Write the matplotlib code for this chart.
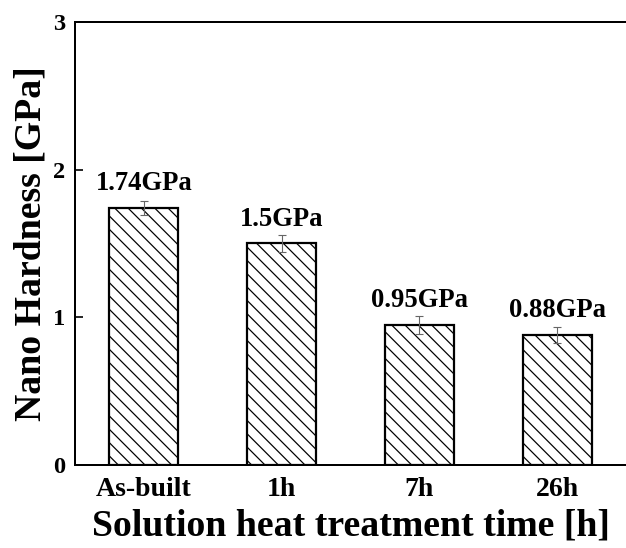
import matplotlib
matplotlib.use("Agg")
import matplotlib.pyplot as plt

# data
categories = ["As-built", "1h", "7h", "26h"]
hardness = [1.74, 1.5, 0.95, 0.88]
errors = [0.05, 0.055, 0.06, 0.055]
value_labels = ["1.74GPa", "1.5GPa", "0.95GPa", "0.88GPa"]
y_ticks = [0, 1, 2, 3]

plt.rcParams["font.family"] = ["Liberation Serif", "DejaVu Serif"]
plt.rcParams["font.weight"] = "bold"
plt.rcParams["hatch.linewidth"] = 1.1

# dpi 80 so the hatch tile spacing comes close to the original
dpi = 80
fig = plt.figure(figsize=(626 / dpi, 548 / dpi), dpi=dpi)
ax = fig.add_axes([0.1198, 0.1515, 0.8802, 0.8085])

x = list(range(len(categories)))
ax.bar(x, hardness, width=0.5, color="white", edgecolor="black",
       linewidth=2.0, hatch="\\\\", zorder=2)
ax.errorbar(x, hardness, yerr=errors, fmt="none", ecolor="#666666",
            elinewidth=1.0, capsize=3.5, capthick=1.0, zorder=3)

for xi, v, lab in zip(x, hardness, value_labels):
    ax.annotate(lab, (xi, v), xytext=(0, 16), textcoords="offset points",
                ha="center", va="baseline", fontsize=24, fontweight="bold")

ax.set_xlim(-0.5, 3.5)
ax.set_ylim(0, 3)
ax.set_yticks(y_ticks)
ax.set_xticks(x)
ax.set_xticklabels(categories)

ax.spines["right"].set_visible(False)
for s in ["left", "top", "bottom"]:
    ax.spines[s].set_linewidth(1.8)

ax.tick_params(axis="y", direction="in", length=7, width=1.5, pad=9,
               labelsize=22)
ax.tick_params(axis="x", length=0, pad=11, labelsize=25)

ax.set_xlabel("Solution heat treatment time [h]", fontsize=34,
              fontweight="bold", labelpad=6)
ax.set_ylabel("Nano Hardness [GPa]", fontsize=34, fontweight="bold",
              labelpad=4)

fig.savefig("out.png", dpi=dpi)
